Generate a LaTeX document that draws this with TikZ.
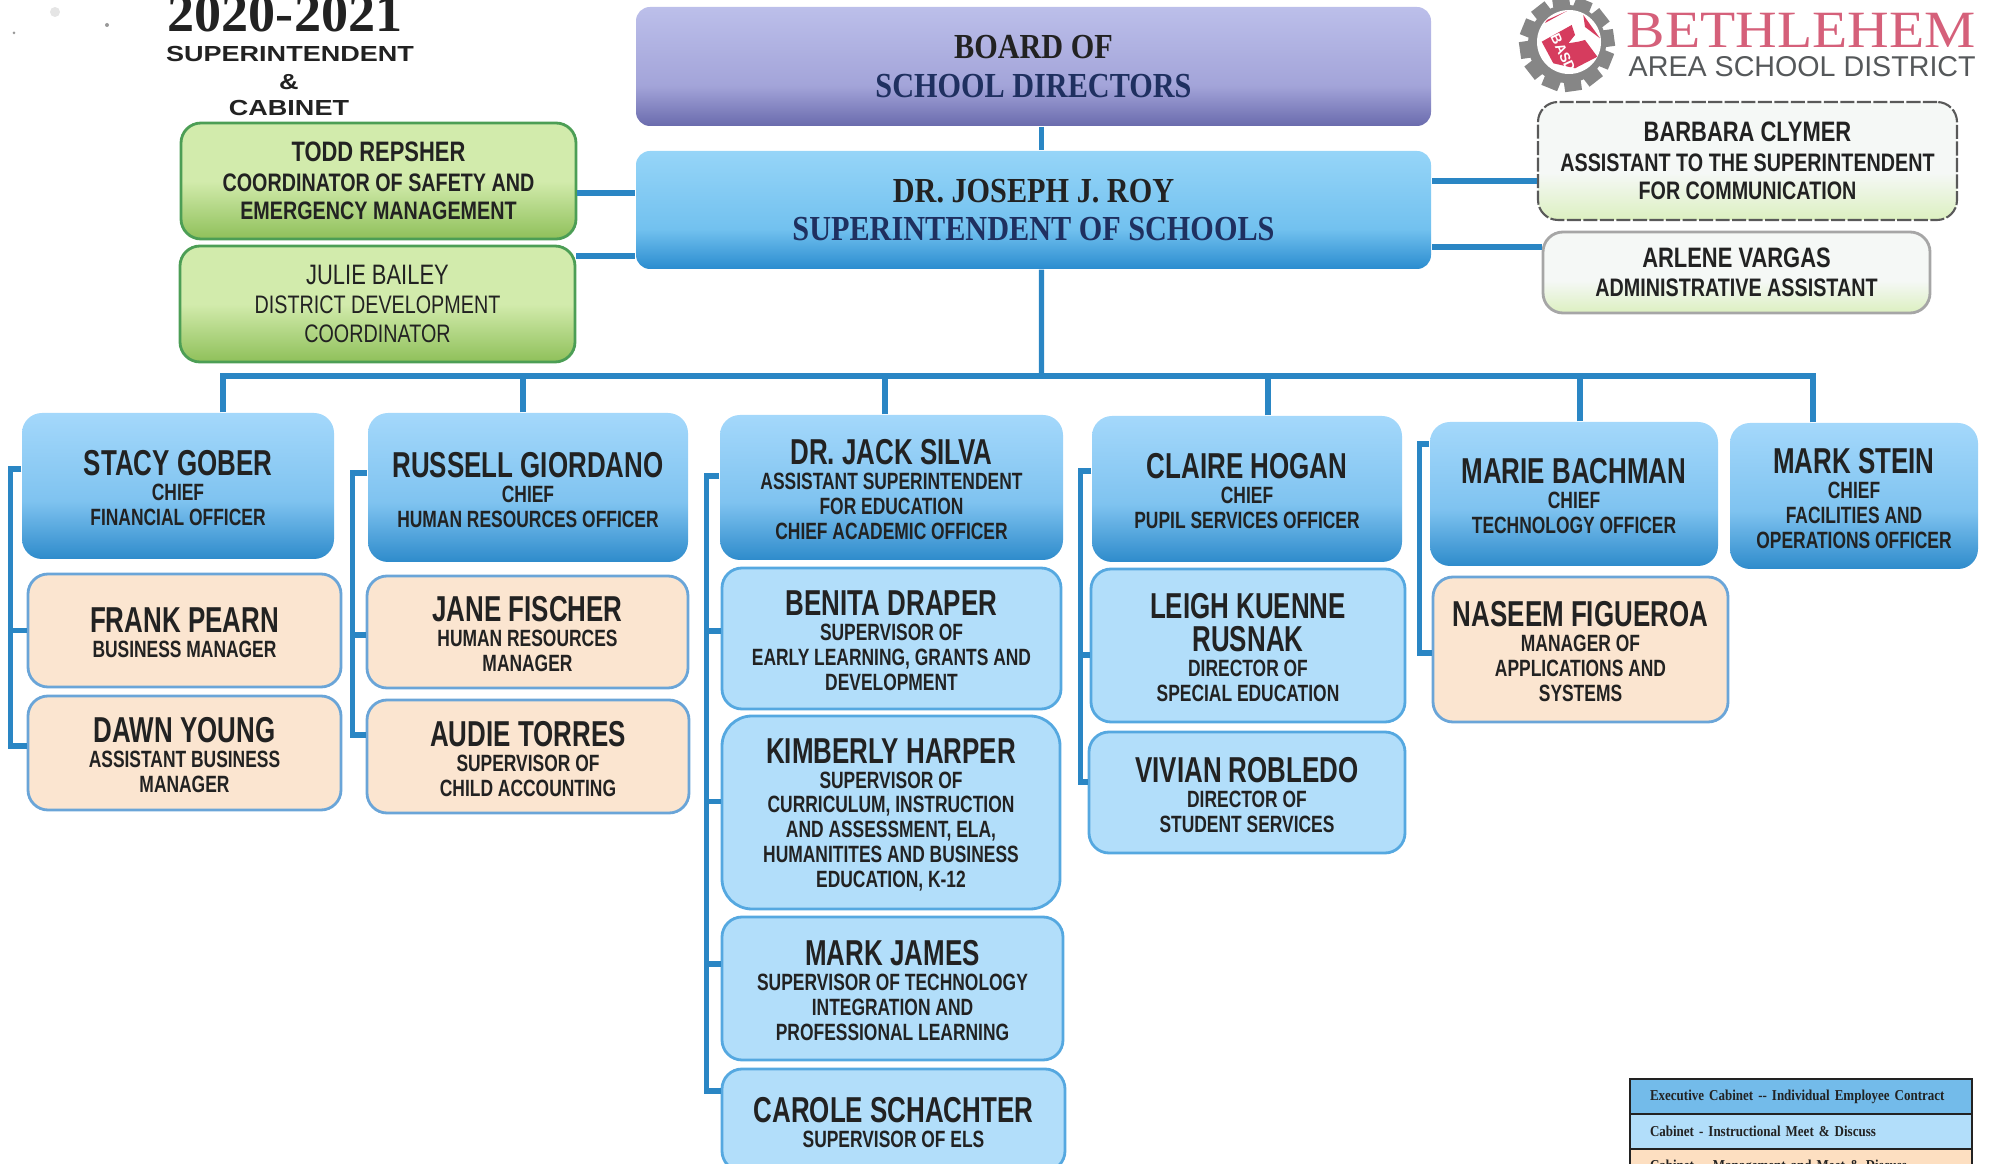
\documentclass[tikz,border=0pt]{standalone}
\usepackage{fontspec}
\setmainfont{Liberation Sans}
\newfontfamily\namefont[FakeStretch=.72]{Liberation Sans Bold}
\newfontfamily\linefont[FakeStretch=.74]{Liberation Sans Bold}
\newfontfamily\greenfont[FakeStretch=.78]{Liberation Sans Bold}
\newfontfamily\greenlight[FakeStretch=.78]{Liberation Sans}
\newfontfamily\boardfont[FakeStretch=.86]{Liberation Serif Bold}
\newfontfamily\yearfont{Liberation Serif Bold}
\newfontfamily\headfont[FakeStretch=1.24]{Liberation Sans Bold}
\newfontfamily\logofont[FakeStretch=1.1]{Liberation Serif}
\newcommand{\pname}{\namefont\fontsize{10.25}{7.1}\selectfont\rule{0pt}{8.4pt}}
\newcommand{\gname}{\fontsize{8}{8.1}\selectfont}
\definecolor{inkdark}{HTML}{222222}
\definecolor{inknavy}{HTML}{1F3060}
\definecolor{linkblue}{HTML}{2A86C4}
\definecolor{chiefT}{HTML}{A4D8FB}
\definecolor{chiefM}{HTML}{7FC3F0}
\definecolor{chiefB}{HTML}{2E8BCB}
\definecolor{roofT}{HTML}{96D5F8}
\definecolor{roofM}{HTML}{72C1EF}
\definecolor{roofB}{HTML}{2A8CCF}
\definecolor{boardT}{HTML}{BCBFEA}
\definecolor{boardM}{HTML}{A3A4D9}
\definecolor{boardB}{HTML}{6A6BAD}
\definecolor{supfill}{HTML}{B2DEFA}
\definecolor{supline}{HTML}{55A8E0}
\definecolor{mgrfill}{HTML}{FBE5D0}
\definecolor{mgrline}{HTML}{6AA5D8}
\definecolor{greenT}{HTML}{D2EBAC}
\definecolor{greenB}{HTML}{8FC05A}
\definecolor{greenline}{HTML}{4C9E55}
\definecolor{paleT}{HTML}{F5F8F6}
\definecolor{paleB}{HTML}{DCF0C0}
\definecolor{gearcolor}{HTML}{868686}
\definecolor{logopink}{HTML}{D5607A}
\definecolor{logohand}{HTML}{D63C5E}
\definecolor{logogray}{HTML}{55585A}
\pgfdeclareverticalshading{chiefshade}{100bp}{color(0bp)=(chiefB); color(25bp)=(chiefB); color(45bp)=(chiefM); color(75bp)=(chiefT); color(100bp)=(chiefT)}
\pgfdeclareverticalshading{roofshade}{100bp}{color(0bp)=(roofB); color(25bp)=(roofB); color(42bp)=(roofM); color(75bp)=(roofT); color(100bp)=(roofT)}
\pgfdeclareverticalshading{boardshade}{100bp}{color(0bp)=(boardB); color(25bp)=(boardB); color(42bp)=(boardM); color(75bp)=(boardT); color(100bp)=(boardT)}
\pgfdeclareverticalshading{greenshade}{100bp}{color(0bp)=(greenB); color(25bp)=(greenB); color(50bp)=(greenT); color(75bp)=(greenT); color(100bp)=(greenT)}
\pgfdeclareverticalshading{paleshade}{100bp}{color(0bp)=(paleB); color(25bp)=(paleB); color(45bp)=(paleT); color(75bp)=(paleT); color(100bp)=(paleT)}
\tikzset{
  sized/.style 2 args={minimum width=#1cm,minimum height=#2cm},
  personbox/.style={rounded corners=.2cm,align=center,inner sep=0pt,text=inkdark,font=\linefont\fontsize{6.7}{7.1}\selectfont},
  chiefbox/.style={personbox,shade,shading=chiefshade},
  supbox/.style={personbox,fill=supfill,draw=supline,thick},
  mgrbox/.style={personbox,fill=mgrfill,draw=mgrline,thick},
  greenbox/.style={personbox,shade,shading=greenshade,draw=greenline,thick,font=\greenfont\fontsize{7.2}{8.1}\selectfont},
  palebox/.style={personbox,shade,shading=paleshade,font=\greenfont\fontsize{7.2}{8.1}\selectfont},
  roofbox/.style={personbox,rounded corners=.14cm,text=inkdark,font=\boardfont\fontsize{10}{10.9}\selectfont},
  legendbox/.style={draw=inkdark,thick,align=left,inner xsep=.2cm,inner ysep=0pt,text width=3.02cm,text=inkdark,font=\boardfont\fontsize{4.3}{5}\selectfont},
  headtext/.style={inner sep=0pt,text=inkdark,font=\headfont\fontsize{6.2}{7}\selectfont},
  link/.style={draw=linkblue,line width=1.5pt},
}
\begin{document}
\begin{tikzpicture}
\useasboundingbox (0,0) rectangle (19.94,-11.64);
% specks
\fill[gray!20] (.55,-.12) circle (.05);
\fill[gray!80] (1.07,-.25) circle (.02);
\fill[gray!80] (.14,-.33) circle (.015);
% heading
\node[anchor=base,inner sep=0pt,text=inkdark,font=\yearfont\fontsize{15.4}{16}\selectfont] (year) at (2.85,-.32) {2020-2021};
\node[headtext] (headone) at (2.90,-.54) {SUPERINTENDENT};
\node[headtext] (headtwo) at (2.89,-.82) {\&};
\node[headtext] (headthree) at (2.89,-1.08) {CABINET};
% logo
\begin{scope}[shift={(15.67,-.44)}]
\foreach \a in {0,30,...,330} \fill[gearcolor,rotate=\a+8] (-.085,0) rectangle (.085,.475);
\fill[gearcolor] (0,0) circle (.39);
\end{scope}
\fill[white] (15.69,-.42) circle (.32);
\fill[logohand] (15.417,-.417) -- (15.717,-.25) -- (15.75,-.35) -- (15.683,-.433) -- (15.783,-.417) -- (15.85,-.40) -- (15.973,-.567) -- (15.75,-.683) -- (15.533,-.633) -- cycle;
\fill[logohand] (15.833,-.15) -- (16.0,-.383) -- (15.85,-.27) -- cycle;
\fill[logohand] (15.45,-.23) -- (15.67,-.11) -- (15.47,-.20) -- cycle;
\node[rotate=-65,inner sep=0pt,text=white,font=\bfseries\fontsize{4}{4}\selectfont] (logotag) at (15.63,-.53) {BASD};
\node[anchor=base west,inner sep=0pt,text=logopink,font=\logofont\fontsize{14.9}{16}\selectfont] (logoone) at (16.26,-.48) {BETHLEHEM};
\node[anchor=base west,inner sep=0pt,text=logogray,font=\fontsize{8.15}{9}\selectfont] (logotwo) at (16.28,-.77) {AREA SCHOOL DISTRICT};
% top row
\node[roofbox,shade,shading=boardshade,sized={7.95}{1.19}] (board) at (10.335,-.665) {BOARD OF\\[0pt]\textcolor{inknavy}{SCHOOL DIRECTORS}};
\node[roofbox,shade,shading=roofshade,sized={7.95}{1.18}] (super) at (10.335,-2.10) {DR. JOSEPH J. ROY\\[0pt]\textcolor{inknavy}{SUPERINTENDENT OF SCHOOLS}};
\node[greenbox,sized={3.95}{1.16}] (todd) at (3.785,-1.81) {\gname TODD REPSHER\\[.2pt]COORDINATOR OF SAFETY AND\\EMERGENCY MANAGEMENT};
\node[greenbox,font=\greenlight\fontsize{7.2}{8.1}\selectfont,sized={3.95}{1.16}] (julie) at (3.775,-3.04) {\gname JULIE BAILEY\\[.2pt]DISTRICT DEVELOPMENT\\COORDINATOR};
\node[palebox,draw=black!65,semithick,dash pattern=on 4pt off .7pt,sized={4.19}{1.18}] (barbara) at (17.475,-1.61) {\gname BARBARA CLYMER\\[.2pt]ASSISTANT TO THE SUPERINTENDENT\\FOR COMMUNICATION};
\node[palebox,draw=black!35,thick,sized={3.87}{.81}] (arlene) at (17.365,-2.725) {\gname ARLENE VARGAS\\[.2pt]ADMINISTRATIVE ASSISTANT};
% chiefs
\node[chiefbox,sized={3.12}{1.46}] (stacy) at (1.78,-4.86) {\pname STACY GOBER\\CHIEF\\FINANCIAL OFFICER};
\node[chiefbox,sized={3.20}{1.49}] (russell) at (5.28,-4.875) {\pname RUSSELL GIORDANO\\CHIEF\\HUMAN RESOURCES OFFICER};
\node[chiefbox,sized={3.43}{1.45}] (jack) at (8.915,-4.875) {\pname DR. JACK SILVA\\ASSISTANT SUPERINTENDENT\\FOR EDUCATION\\CHIEF ACADEMIC OFFICER};
\node[chiefbox,sized={3.10}{1.46}] (claire) at (12.47,-4.89) {\pname CLAIRE HOGAN\\CHIEF\\PUPIL SERVICES OFFICER};
\node[chiefbox,sized={2.88}{1.44}] (marie) at (15.74,-4.94) {\pname MARIE BACHMAN\\CHIEF\\TECHNOLOGY OFFICER};
\node[chiefbox,sized={2.48}{1.46}] (stein) at (18.54,-4.96) {\pname MARK STEIN\\CHIEF\\FACILITIES AND\\OPERATIONS OFFICER};
% staff
\node[mgrbox,sized={3.13}{1.13}] (frank) at (1.845,-6.305) {\pname FRANK PEARN\\BUSINESS MANAGER};
\node[mgrbox,sized={3.13}{1.14}] (dawn) at (1.845,-7.53) {\pname DAWN YOUNG\\ASSISTANT BUSINESS\\MANAGER};
\node[mgrbox,sized={3.21}{1.12}] (jane) at (5.275,-6.32) {\pname JANE FISCHER\\HUMAN RESOURCES\\MANAGER};
\node[mgrbox,sized={3.22}{1.13}] (audie) at (5.28,-7.565) {\pname AUDIE TORRES\\SUPERVISOR OF\\CHILD ACCOUNTING};
\node[supbox,sized={3.39}{1.41}] (benita) at (8.915,-6.385) {\pname BENITA DRAPER\\SUPERVISOR OF\\EARLY LEARNING, GRANTS AND\\DEVELOPMENT};
\node[supbox,rounded corners=.3cm,sized={3.38}{1.93}] (kimberly) at (8.91,-8.125) {\pname KIMBERLY HARPER\\SUPERVISOR OF\\CURRICULUM, INSTRUCTION\\AND ASSESSMENT, ELA,\\HUMANITITES AND BUSINESS\\EDUCATION, K-12};
\node[supbox,sized={3.41}{1.43}] (james) at (8.925,-9.885) {\pname MARK JAMES\\SUPERVISOR OF TECHNOLOGY\\INTEGRATION AND\\PROFESSIONAL LEARNING};
\node[supbox,sized={3.43}{1.02}] (carole) at (8.935,-11.20) {\pname CAROLE SCHACHTER\\SUPERVISOR OF ELS};
\node[supbox,sized={3.14}{1.53}] (leigh) at (12.48,-6.455) {\pname LEIGH KUENNE\\\pname RUSNAK\\DIRECTOR OF\\SPECIAL EDUCATION};
\node[supbox,sized={3.16}{1.21}] (vivian) at (12.47,-7.925) {\pname VIVIAN ROBLEDO\\DIRECTOR OF\\STUDENT SERVICES};
\node[mgrbox,sized={2.95}{1.45}] (naseem) at (15.805,-6.495) {\pname NASEEM FIGUEROA\\MANAGER OF\\APPLICATIONS AND\\SYSTEMS};
% connectors
\coordinate (bus) at (10.415,-3.76);
\draw[link] ([xshift=.08cm]board.south) -- ([xshift=.08cm]super.north);
\draw[link] ([xshift=.08cm]super.south) -- (bus);
\draw[link] ([xshift=.45cm]stacy.north) |- (bus);
\draw[link] ([xshift=-.05cm]russell.north) |- (bus);
\draw[link] ([xshift=-.065cm]jack.north) |- (bus);
\draw[link] ([xshift=.21cm]claire.north) |- (bus);
\draw[link] ([xshift=.06cm]marie.north) |- (bus);
\draw[link] ([xshift=-.41cm]stein.north) |- (bus);
\draw[link] ([yshift=-.12cm]todd.east) -- ([yshift=-.12cm]todd.east -| super.west);
\draw[link] ([yshift=.48cm]julie.east) -- ([yshift=.48cm]julie.east -| super.west);
\draw[link] ([yshift=-.20cm]barbara.west) -- ([yshift=-.20cm]barbara.west -| super.east);
\draw[link] ([yshift=.255cm]arlene.west) -- ([yshift=.255cm]arlene.west -| super.east);
\draw[link] ([yshift=.17cm]stacy.west) -- ++(-.11,0) |- ([yshift=.07cm]dawn.west);
\draw[link] (frank.west) -- ++(-.17,0);
\draw[link] ([yshift=.145cm]russell.west) -- ++(-.15,0) |- ([yshift=.215cm]audie.west);
\draw[link] ([yshift=-.03cm]jane.west) -- ++(-.14,0);
\draw[link] ([yshift=.115cm]jack.west) -- ++(-.13,0) |- ([yshift=.29cm]carole.west);
\draw[link] ([yshift=.075cm]benita.west) -- ++(-.15,0);
\draw[link] ([yshift=.11cm]kimberly.west) -- ++(-.15,0);
\draw[link] ([yshift=.245cm]james.west) -- ++(-.15,0);
\draw[link] ([yshift=.18cm]claire.west) -- ++(-.11,0) |- ([yshift=.105cm]vivian.west);
\draw[link] ([yshift=-.095cm]leigh.west) -- ++(-.10,0);
\draw[link] ([yshift=.50cm]marie.west) -- ++(-.10,0) |- ([yshift=-.035cm]naseem.west);
% legend
\node[legendbox,fill=chiefM!85!chiefB,minimum width=3.42cm,minimum height=.35cm] (legendone) at (18.01,-10.965) {Executive Cabinet -- Individual Employee Contract};
\node[legendbox,fill=supfill,minimum width=3.42cm,minimum height=.35cm] (legendtwo) at (18.01,-11.315) {Cabinet - Instructional Meet \& Discuss};
\node[legendbox,fill=mgrfill!80!orange!70,minimum width=3.42cm,minimum height=.36cm] (legendthree) at (18.01,-11.67) {Cabinet -- Management and Meet \& Discuss};
\end{tikzpicture}
\end{document}
